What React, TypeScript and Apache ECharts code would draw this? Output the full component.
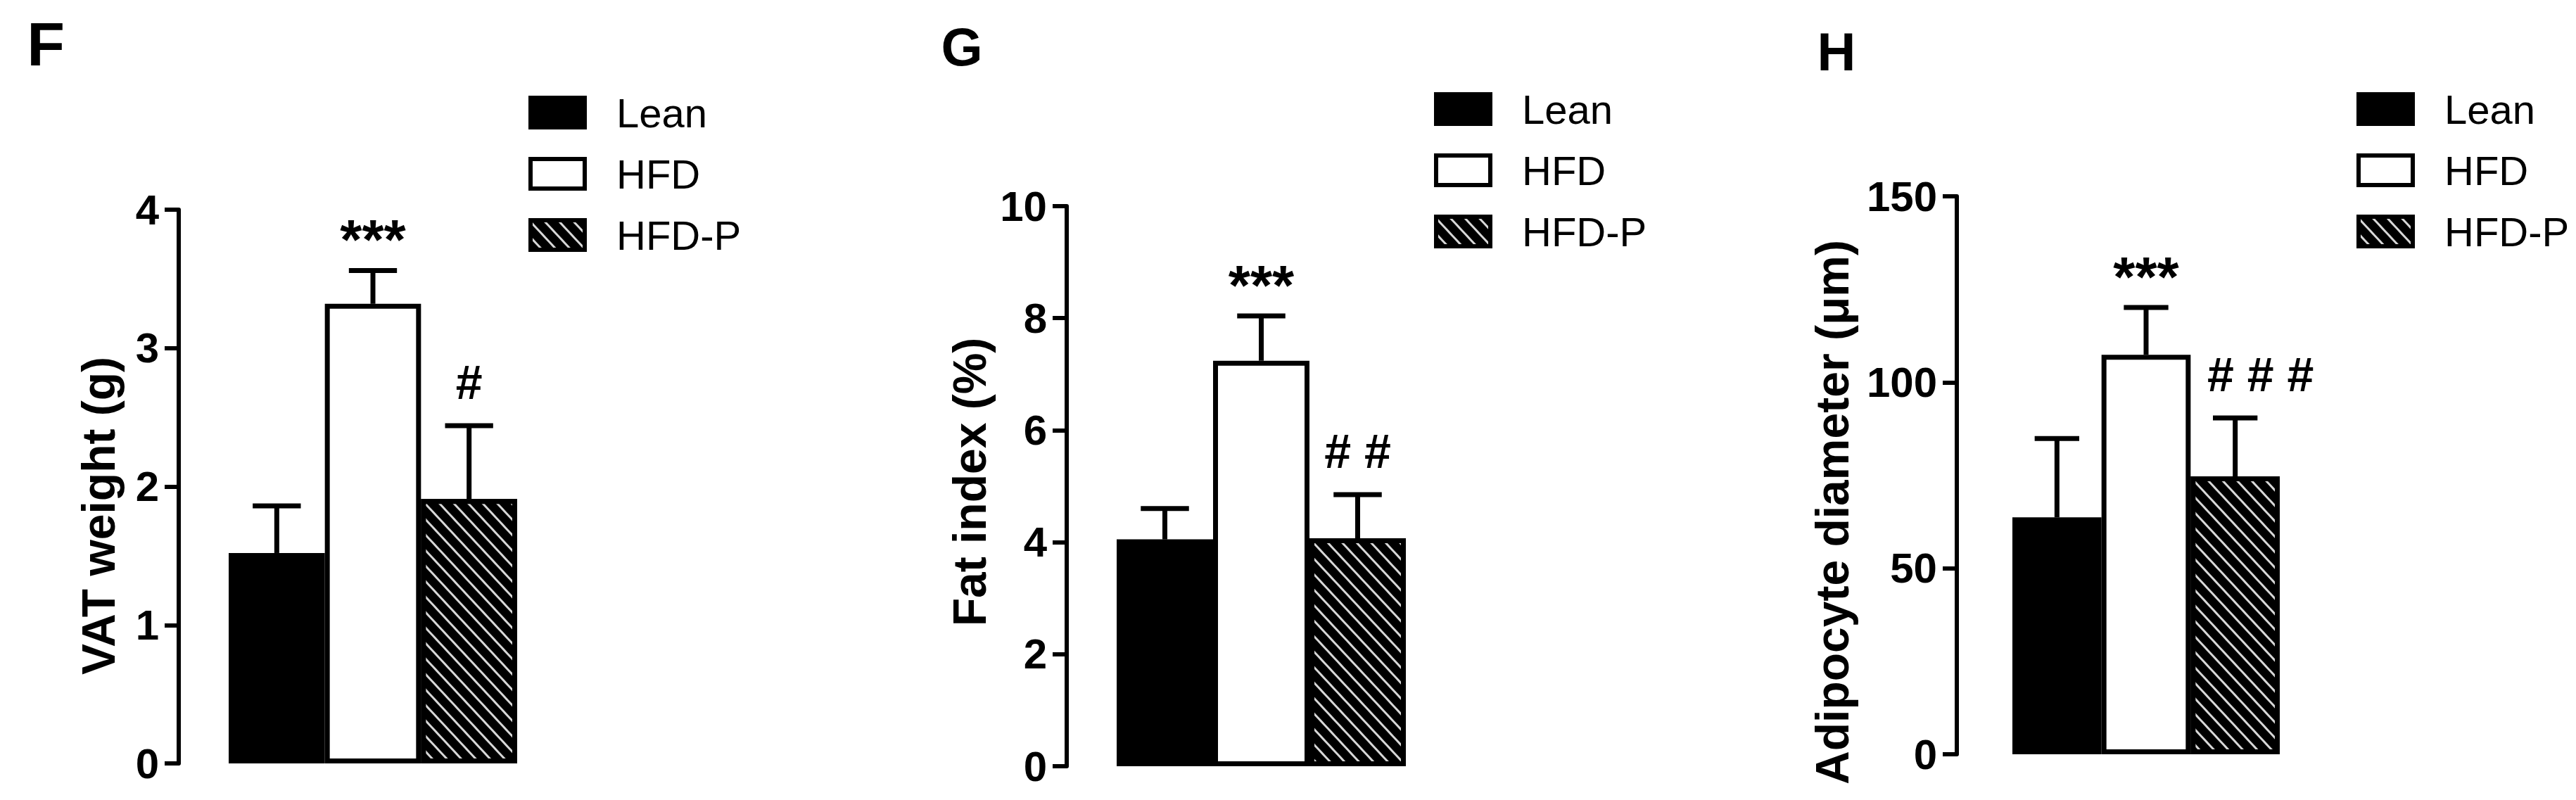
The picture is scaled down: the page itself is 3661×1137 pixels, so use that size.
import React, { useEffect, useRef } from "react";
import * as echarts from "echarts";

// ---- data ----
const groups = ["Lean", "HFD", "HFD-P"];

const vatMean = [1.52, 3.32, 1.91];
const vatUpper = [1.86, 3.56, 2.44];
const vatMarks = ["", "***", "#"];

const fatMean = [4.05, 7.24, 4.07];
const fatUpper = [4.6, 8.04, 4.85];
const fatMarks = ["", "***", "# #"];

const diamMean = [63.7, 107.4, 74.7];
const diamUpper = [84.9, 120.1, 90.4];
const diamMarks = ["", "***", "# # #"];

const panelLetters = ["F", "G", "H"];
const yTitles = ["VAT weight (g)", "Fat index (%)", "Adipocyte diameter (\u03bcm)"];
const yMax = [4, 10, 150];
const yInterval = [1, 2, 50];

const means = [vatMean, fatMean, diamMean];
const uppers = [vatUpper, fatUpper, diamUpper];
const marks = [vatMarks, fatMarks, diamMarks];

// ---- layout (pixels) ----
const layout = [
  { left: 325, top: 298, width: 410, height: 787, offset: 71, letterX: 65, letterY: 62, letterSize: 88, titleX: 140, titleY: 733, legendLeft: 751, legendTop: 131, markShift: 0 },
  { left: 1587, top: 293, width: 411, height: 796, offset: 71, letterX: 1367, letterY: 66, letterSize: 76, titleX: 1378, titleY: 685, legendLeft: 2038, legendTop: 126, markShift: 0 },
  { left: 2860, top: 279, width: 380, height: 793, offset: 79, letterX: 2610, letterY: 73, letterSize: 76, titleX: 2604, titleY: 728, legendLeft: 3349, legendTop: 126, markShift: 36 },
];

const FONT = "'Liberation Sans', Arial, Helvetica, sans-serif";

const barStyles: any[] = [
  { color: "#000", borderColor: "#000", borderWidth: 7 },
  { color: "#fff", borderColor: "#000", borderWidth: 7 },
  {
    color: "#000",
    borderColor: "#000",
    borderWidth: 7,
    decal: {
      symbol: "rect",
      symbolSize: 1,
      color: "#d8d8d8",
      dashArrayX: [1, 0],
      dashArrayY: [3, 12],
      rotation: 0.82,
    },
  },
];

function buildOption() {
  const grid: any[] = [];
  const xAxis: any[] = [];
  const yAxis: any[] = [];
  const series: any[] = [];
  const legend: any[] = [];
  const graphic: any[] = [];

  layout.forEach((L, p) => {
    grid.push({ left: L.left, top: L.top, width: L.width, height: L.height, containLabel: false });
    xAxis.push({
      gridIndex: p,
      type: "category",
      data: groups,
      show: false,
      boundaryGap: true,
    });
    yAxis.push({
      gridIndex: p,
      type: "value",
      min: 0,
      max: yMax[p],
      interval: yInterval[p],
      offset: L.offset,
      axisLine: { show: true, lineStyle: { color: "#000", width: 6 } },
      axisTick: { show: true, inside: false, length: 20, lineStyle: { color: "#000", width: 6 } },
      axisLabel: { margin: 28, fontSize: 60, fontWeight: "bold", color: "#000", fontFamily: FONT },
      splitLine: { show: false },
    });
    groups.forEach((g, k) => {
      series.push({
        type: "bar",
        name: g,
        xAxisIndex: p,
        yAxisIndex: p,
        data: means[p].map((v, j) => (j === k ? v : "-")),
        barWidth: "100%",
        barGap: "-100%",
        itemStyle: barStyles[k],
        z: 2,
      });
    });
    const pm = marks[p];
    const shift = L.markShift;
    series.push({
      type: "custom",
      name: "err" + p,
      xAxisIndex: p,
      yAxisIndex: p,
      z: 5,
      data: means[p].map((v, j) => [j, uppers[p][j], v]),
      encode: { x: 0, y: 1 },
      renderItem: (params: any, api: any) => {
        const i = api.value(0);
        const up = api.coord([i, api.value(1)]);
        const base = api.coord([i, api.value(2)]);
        const bw = api.size([1, 0])[0];
        const half = bw / 4;
        const children: any[] = [
          { type: "line", shape: { x1: up[0], y1: base[1], x2: up[0], y2: up[1] }, style: { stroke: "#000", lineWidth: 7 } },
          { type: "line", shape: { x1: up[0] - half, y1: up[1], x2: up[0] + half, y2: up[1] }, style: { stroke: "#000", lineWidth: 7 } },
        ];
        const m = pm[params.dataIndex];
        if (m) {
          const star = m.indexOf("*") >= 0;
          children.push({
            type: "text",
            x: up[0] + (star ? 0 : shift),
            y: up[1] - (star ? 44 : 62),
            style: {
              text: m,
              fill: "#000",
              fontSize: star ? 80 : 68,
              fontWeight: "bold",
              fontFamily: FONT,
              textAlign: "center",
              textVerticalAlign: "middle",
            },
          });
        }
        return { type: "group", children };
      },
    });
    legend.push({
      data: groups,
      orient: "vertical",
      left: L.legendLeft,
      top: L.legendTop,
      padding: 0,
      itemWidth: 77,
      itemHeight: 42,
      itemGap: 29,
      icon: "rect",
      selectedMode: false,
      itemStyle: { borderColor: "#000", borderWidth: 6 },
      textStyle: { fontSize: 58, color: "#000", fontFamily: FONT, padding: [0, 0, 0, 40] },
    });
    graphic.push({
      type: "text",
      x: L.letterX,
      y: L.letterY,
      style: { text: panelLetters[p], fontSize: L.letterSize, fontWeight: "bold", fill: "#000", fontFamily: FONT, textAlign: "center", textVerticalAlign: "middle" },
    });
    graphic.push({
      type: "text",
      x: L.titleX,
      y: L.titleY,
      rotation: Math.PI / 2,
      style: { text: yTitles[p], fontSize: 66, fontWeight: "bold", fill: "#000", fontFamily: FONT, textAlign: "center", textVerticalAlign: "middle" },
    });
  });

  return {
    animation: false,
    backgroundColor: "#fff",
    textStyle: { fontFamily: FONT },
    grid,
    xAxis,
    yAxis,
    series,
    legend,
    graphic,
  };
}

export default function App() {
  const ref = useRef<HTMLDivElement>(null);
  useEffect(() => {
    if (!ref.current) return;
    const chart = echarts.init(ref.current, undefined, { renderer: "svg" });
    chart.setOption(buildOption() as any);
    return () => chart.dispose();
  }, []);
  return (
    <div
      ref={ref}
      style={{ position: "absolute", left: 0, top: 0, width: 3661, height: 1137, background: "#fff" }}
    />
  );
}
